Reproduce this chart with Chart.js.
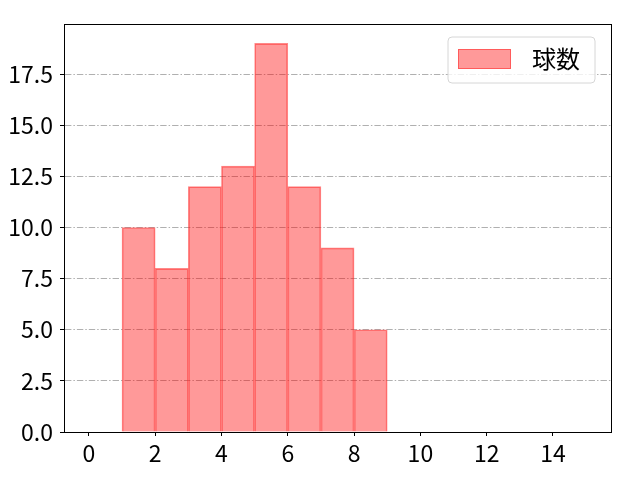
<!DOCTYPE html>
<html>
<head>
<meta charset="utf-8">
<script src="https://cdn.jsdelivr.net/npm/chart.js@4.4.1/dist/chart.umd.min.js"></script>
<style>
html,body{margin:0;padding:0;background:#fff;}
#wrap{width:640px;height:480px;position:relative;}
</style>
</head>
<body>
<div id="wrap"><canvas id="c" width="640" height="480"></canvas></div>
<script>
// Data
const binStarts = [1, 2, 3, 4, 5, 6, 7, 8];
const counts = [10, 8, 12, 13, 19, 12, 9, 5];
const seriesLabel = '球数';
const xTicks = [0, 2, 4, 6, 8, 10, 12, 14];
const yTicks = [0, 2.5, 5, 7.5, 10, 12.5, 15, 17.5];

const FONT = '"Noto Sans CJK JP", "Noto Sans", sans-serif';

const points = binStarts.map((s, i) => ({x: s + 0.5, y: counts[i]}));

const framePlugin = {
  id: 'frame',
  afterDraw(chart) {
    const {ctx, chartArea: a} = chart;
    ctx.save();
    ctx.strokeStyle = '#000';
    ctx.lineWidth = 1;
    ctx.strokeRect(Math.round(a.left) + 0.5, Math.round(a.top) + 0.5,
      Math.round(a.right - a.left), Math.round(a.bottom - a.top));
    // legend
    const ds = chart.data.datasets[0];
    const bx = 448, by = 37, bw = 147, bh = 46, r = 4;
    ctx.beginPath();
    ctx.moveTo(bx + r, by);
    ctx.arcTo(bx + bw, by, bx + bw, by + bh, r);
    ctx.arcTo(bx + bw, by + bh, bx, by + bh, r);
    ctx.arcTo(bx, by + bh, bx, by, r);
    ctx.arcTo(bx, by, bx + bw, by, r);
    ctx.closePath();
    ctx.fillStyle = 'rgba(255,255,255,0.8)';
    ctx.fill();
    ctx.strokeStyle = '#d6d6d6';
    ctx.stroke();
    ctx.fillStyle = ds.backgroundColor;
    ctx.fillRect(458, 49, 53, 20);
    ctx.strokeStyle = ds.borderColor;
    ctx.strokeRect(458.5, 49.5, 52, 19);
    ctx.fillStyle = '#000';
    ctx.font = '24px ' + FONT;
    ctx.textBaseline = 'middle';
    ctx.textAlign = 'left';
    ctx.fillText(ds.label, 532, 59);
    ctx.restore();
  }
};

new Chart(document.getElementById('c'), {
  type: 'bar',
  data: {
    datasets: [{
      label: seriesLabel,
      data: points,
      backgroundColor: 'rgba(255,0,0,0.4)',
      borderColor: 'rgba(255,40,40,0.55)',
      borderWidth: 1,
      barPercentage: 1,
      categoryPercentage: 1
    }]
  },
  options: {
    responsive: false,
    animation: false,
    devicePixelRatio: 1,
    layout: {padding: {top: 24, right: 29, left: 0, bottom: 0}},
    plugins: {legend: {display: false}, tooltip: {enabled: false}},
    scales: {
      x: {
        type: 'linear',
        offset: false,
        min: -0.75,
        max: 15.75,
        afterBuildTicks(scale) { scale.ticks = xTicks.map(v => ({value: v})); },
        afterFit(scale) { scale.height = 48; },
        grid: {offset: false, drawOnChartArea: false, tickColor: '#000', tickLength: 4, tickWidth: 1},
        border: {color: '#000', width: 1},
        ticks: {color: '#000', font: {family: FONT, size: 23}, padding: 3, maxRotation: 0, autoSkip: false,
          callback: v => String(v)}
      },
      y: {
        min: 0,
        max: 19.95,
        afterBuildTicks(scale) { scale.ticks = yTicks.map(v => ({value: v})); },
        afterFit(scale) { scale.width = 64; },
        grid: {offset: false, color: '#b0b0b0', lineWidth: 1, tickColor: '#000', tickLength: 4, tickWidth: 1, tickBorderDash: []},
        border: {color: '#000', width: 1, dash: [6.4, 2, 1.5, 2]},
        ticks: {color: '#000', font: {family: FONT, size: 23}, padding: 7, autoSkip: false,
          callback: v => Number(v).toFixed(1)}
      }
    }
  },
  plugins: [framePlugin]
});
</script>
</body>
</html>
